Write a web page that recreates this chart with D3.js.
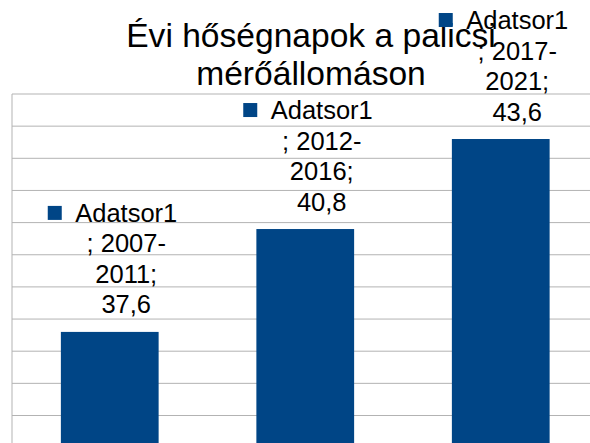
<!DOCTYPE html>
<html><head><meta charset="utf-8">
<script src="https://cdn.jsdelivr.net/npm/d3@7"></script>
<style>html,body{margin:0;padding:0;background:#fff;overflow:hidden}</style>
</head><body>
<script>
const categories = ["2007-2011", "2012-2016", "2017-2021"];
const values = [37.6, 40.8, 43.6];
const seriesName = "Adatsor1";
const titleLines = ["Évi hőségnapok a palicsi", "mérőállomáson"];
const yTicks = d3.range(0, 46, 1);

(function () {
const W = 590, H = 443;
const svg = d3.select("body").append("svg").attr("width", W).attr("height", H)
  .style("font-family", "'Liberation Sans', Arial, sans-serif");

const pLeft = 12, pRight = 598.5, pTop = 94, unit = 32.15;
const x = d3.scaleBand().domain(categories).range([pLeft, pRight]).paddingInner(0.5).paddingOuter(0.25);
const y = d3.scaleLinear().domain([0, 45]).range([pTop + 45 * unit, pTop]);

// gridlines
svg.append("g").selectAll("line").data(yTicks).join("line")
  .attr("x1", pLeft).attr("x2", pRight)
  .attr("y1", d => y(d)).attr("y2", d => y(d))
  .attr("stroke", "#b3b3b3").attr("stroke-width", 1);
// left axis
svg.append("line").attr("x1", pLeft).attr("x2", pLeft).attr("y1", pTop).attr("y2", y(0))
  .attr("stroke", "#b3b3b3");

// bars
svg.append("g").selectAll("rect").data(values).join("rect")
  .attr("x", (d, i) => x(categories[i]))
  .attr("width", x.bandwidth())
  .attr("y", d => y(d))
  .attr("height", d => y(0) - y(d))
  .attr("fill", "#004586");

// title
svg.append("text").attr("x", 311).attr("y", 47).attr("text-anchor", "middle")
  .attr("font-size", 33.6).attr("fill", "#000")
  .selectAll("tspan").data(titleLines).join("tspan")
  .attr("x", 311).attr("dy", (d, i) => i === 0 ? 0 : 37.5).text(d => d);

// data labels
const fs = 25.5, lh = 30.5;
values.forEach((v, i) => {
  const cat = categories[i];
  const cx = x(cat) + x.bandwidth() / 2;
  const parts = cat.split("-");
  const lines = [seriesName, "; " + parts[0] + "-", parts[1] + ";", String(v).replace(".", ",")];
  const lastBase = y(v) - 18.5;
  const firstBase = lastBase - lh * (lines.length - 1);
  const tx = cx + 16.5;
  const g = svg.append("g");
  g.append("rect").attr("x", cx - 62).attr("y", firstBase - 16).attr("width", 14).attr("height", 14)
    .attr("fill", "#004586");
  g.append("text").attr("text-anchor", "middle").attr("font-size", fs).attr("fill", "#000")
    .selectAll("tspan").data(lines).join("tspan")
    .attr("x", tx).attr("y", (d, k) => firstBase + k * lh).text(d => d);
});
})();
</script>
</body></html>
